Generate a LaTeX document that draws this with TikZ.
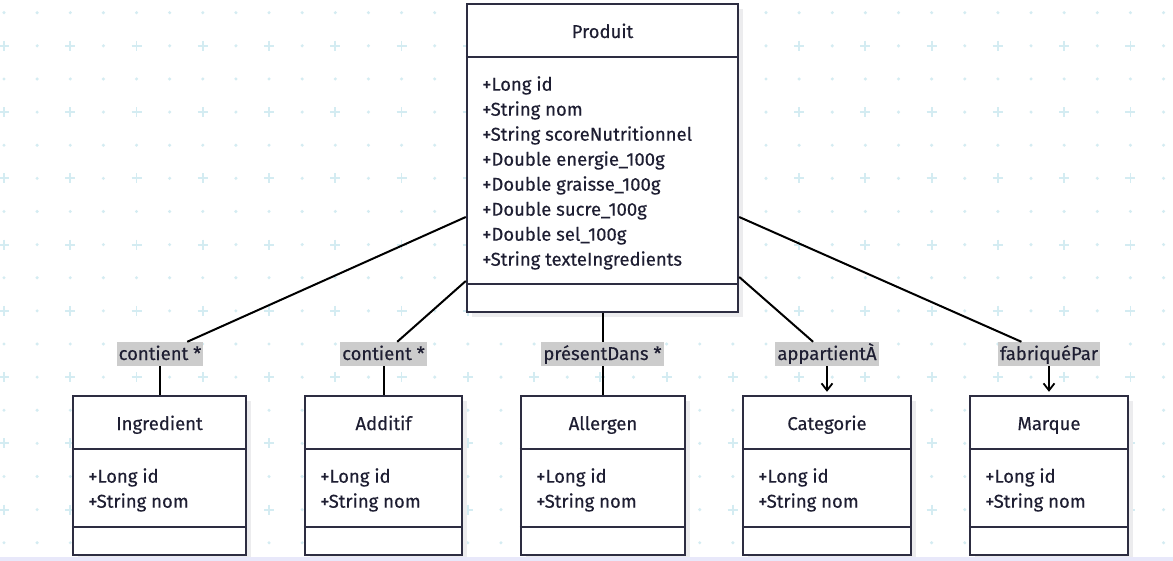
\documentclass[tikz,border=0pt]{standalone}
\usepackage{fontspec}
\setmainfont{Fira Sans}[FakeBold=0.35]
\usetikzlibrary{arrows.meta}
\definecolor{gridc}{RGB}{212,236,242}
\definecolor{boxc}{RGB}{45,45,65}
\definecolor{txtc}{RGB}{30,30,50}
\definecolor{lblc}{RGB}{204,204,204}
\definecolor{shadc}{RGB}{236,236,238}
\definecolor{stripc}{RGB}{232,232,250}
\newcommand{\dfont}{\fontsize{18.5}{22}\selectfont}
\begin{document}
\begin{tikzpicture}[x=1pt,y=-1pt,
  classbox/.style={draw=boxc, line width=2.4pt, fill=white, inner sep=0pt},
  divider/.style={draw=boxc, line width=2.4pt},
  attr/.style={anchor=base west, font=\dfont, text=txtc, inner sep=0pt},
  ctitle/.style={anchor=base, font=\dfont, text=txtc, inner sep=0pt},
  lbl/.style={anchor=base, fill=lblc, font=\dfont, text=txtc, text height=18pt, text depth=6pt, inner xsep=2pt, inner ysep=0pt},
  edge/.style={line width=2pt, black},
  arr/.style={edge, -{Straight Barb[length=7pt, width=11pt, line width=1.8pt]}},
  gridplus/.style={draw=gridc, line width=1.8pt},
]
\useasboundingbox (0,0) rectangle (1173,561);
\fill[white] (0,0) rectangle (1173,561);
% background grid
\foreach \i in {0,...,35}{\foreach \j in {0,...,16}{
  \pgfmathtruncatemacro\isplus{(mod(\i,2)==0)&&(mod(\j,2)==1)}
  \ifnum\isplus=1
    \draw[gridplus] (4+33.13*\i,12.7+33.13*\j) +(-5,0) -- +(5,0) +(0,-5) -- +(0,5);
  \else
    \fill[gridc] (4+33.13*\i,12.7+33.13*\j) circle[radius=1.7];
  \fi
}}
\fill[stripc] (0,557) rectangle (1173,561);

% shadows
\fill[shadc] (472,9) rectangle (743,317);
\foreach \a/\b in {73/246,305/462,521/685,743/911,970/1128}{
  \fill[shadc] (\a+5,401) rectangle (\b+5,557);
}

% class boxes
\node[classbox, minimum width=271pt, minimum height=308pt] (produit) at (602.5,158) {};
\node[classbox, minimum width=173pt, minimum height=159pt] (ingredient) at (159.5,475.5) {};
\node[classbox, minimum width=157pt, minimum height=159pt] (additif) at (383.5,475.5) {};
\node[classbox, minimum width=164pt, minimum height=159pt] (allergen) at (603,475.5) {};
\node[classbox, minimum width=168pt, minimum height=159pt] (categorie) at (827,475.5) {};
\node[classbox, minimum width=158pt, minimum height=159pt] (marque) at (1049,475.5) {};

% dividers
\draw[divider] (produit.west |- 0,57) -- (produit.east |- 0,57);
\draw[divider] (produit.west |- 0,284) -- (produit.east |- 0,284);
\foreach \n in {ingredient,additif,allergen,categorie,marque}{
  \draw[divider] (\n.west |- 0,449) -- (\n.east |- 0,449);
  \draw[divider] (\n.west |- 0,527) -- (\n.east |- 0,527);
}

% titles
\node[ctitle] (tprod) at (602.5,38) {Produit};
\node[ctitle] (ting) at (159.5,430) {Ingredient};
\node[ctitle] (tadd) at (383.5,430) {Additif};
\node[ctitle] (tall) at (603,430) {Allergen};
\node[ctitle] (tcat) at (827,430) {Categorie};
\node[ctitle] (tmar) at (1049,430) {Marque};

% Produit attributes
\node[attr] (pa1) at (482,90.7) {+Long id};
\node[attr] (pa2) at (482,115.7) {+String nom};
\node[attr] (pa3) at (482,140.7) {+String scoreNutritionnel};
\node[attr] (pa4) at (482,165.7) {+Double energie\_100g};
\node[attr] (pa5) at (482,190.7) {+Double graisse\_100g};
\node[attr] (pa6) at (482,215.7) {+Double sucre\_100g};
\node[attr] (pa7) at (482,240.7) {+Double sel\_100g};
\node[attr] (pa8) at (482,265.7) {+String texteIngredients};

% small class attributes
\foreach \n/\x in {ingredient/88,additif/320,allergen/536,categorie/758,marque/985}{
  \node[attr] (\n-a1) at (\x,482.7) {+Long id};
  \node[attr] (\n-a2) at (\x,507.7) {+String nom};
}

% edge labels
\node[lbl] (l1) at (160,360) {contient *};
\node[lbl] (l2) at (383.5,360) {contient *};
\node[lbl] (l3) at (602.5,360) {présentDans *};
\node[lbl] (l4) at (827,360) {appartientÀ};
\node[lbl] (l5) at (1049,360) {fabriquéPar};

% attachment points on Produit
\coordinate (p1) at (produit.west |- 0,217);
\coordinate (p2) at (produit.west |- 0,281);
\coordinate (p4) at (produit.east |- 0,277);
\coordinate (p5) at (produit.east |- 0,217);

% connectors
\draw[edge] (p1) -- (l1);
\draw[edge] (l1.south) -- (l1.south |- ingredient.north);
\draw[edge] (p2) -- (l2);
\draw[edge] (l2.south) -- (l2.south |- additif.north);
\draw[edge] (produit.south) -- (l3);
\draw[edge] (l3.south) -- (l3.south |- allergen.north);
\draw[edge] (p4) -- (l4);
\draw[arr] (l4.south) -- ([yshift=3pt]l4.south |- categorie.north);
\draw[edge] (p5) -- (l5);
\draw[arr] (l5.south) -- ([yshift=3pt]l5.south |- marque.north);
\end{tikzpicture}
\end{document}
